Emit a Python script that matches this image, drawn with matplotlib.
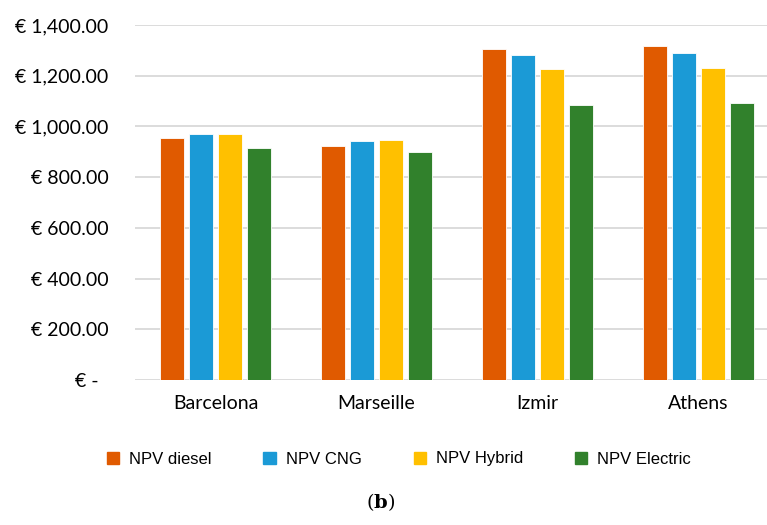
import matplotlib
matplotlib.use("Agg")
from matplotlib import pyplot as plt
from matplotlib.patches import Patch
import numpy as np

cities = ["Barcelona", "Marseille", "Izmir", "Athens"]
series = ["NPV diesel", "NPV CNG", "NPV Hybrid", "NPV Electric"]
npv_diesel = [954, 923, 1305, 1317]
npv_cng = [972, 943, 1282, 1290]
npv_hybrid = [970, 946, 1225, 1230]
npv_electric = [915, 899, 1085, 1092]
yticks = [0, 200, 400, 600, 800, 1000, 1200, 1400]

colors = ["#E05A00", "#1B9AD6", "#FFC000", "#31812C"]
values = [npv_diesel, npv_cng, npv_hybrid, npv_electric]

plt.rcParams["mathtext.fontset"] = "dejavuserif"


def euro(v):
    if v == 0:
        return "€ -  "
    return "€ {:,.2f}".format(v)


fig = plt.figure(figsize=(7.67, 5.25), dpi=100)
# axes runs slightly past the right edge of the picture, as in the source
ax = fig.add_axes([135 / 767, 145 / 525, 644 / 767, 355 / 525])

x = np.arange(len(cities))
step = 0.18
width = 0.145
for i, (vals, c) in enumerate(zip(values, colors)):
    ax.bar(x + (i - 1.5) * step, vals, width, color=c, edgecolor="white",
           linewidth=0.6, zorder=3)

ax.set_xlim(-0.5, 3.5)
ax.set_ylim(0, 1400)
ax.set_yticks(yticks)
ax.set_yticklabels([euro(v) for v in yticks], fontsize=14, family="Lato")
ax.set_xticks(x)
ax.set_xticklabels(cities, fontsize=14, family="Lato")
ax.tick_params(length=0)
ax.tick_params(axis="y", pad=19)
ax.tick_params(axis="x", pad=11)
ax.grid(axis="y", color="#D9D9D9", linewidth=1.3, zorder=0)
for s in ax.spines.values():
    s.set_visible(False)

handles = [Patch(color=c) for c in colors]
fig.legend(handles, series, loc="center", bbox_to_anchor=(399 / 767, 1 - 459 / 525),
           ncol=4, frameon=False, prop={"family": "Liberation Sans", "size": 12},
           handlelength=0.75, handleheight=0.75, handletextpad=0.6,
           columnspacing=3.1)

fig.text(381 / 767, 1 - 502 / 525, r"($\mathbf{b}$)", fontsize=14,
         family="DejaVu Serif", ha="center", va="center")

fig.savefig("out.png", dpi=100)
